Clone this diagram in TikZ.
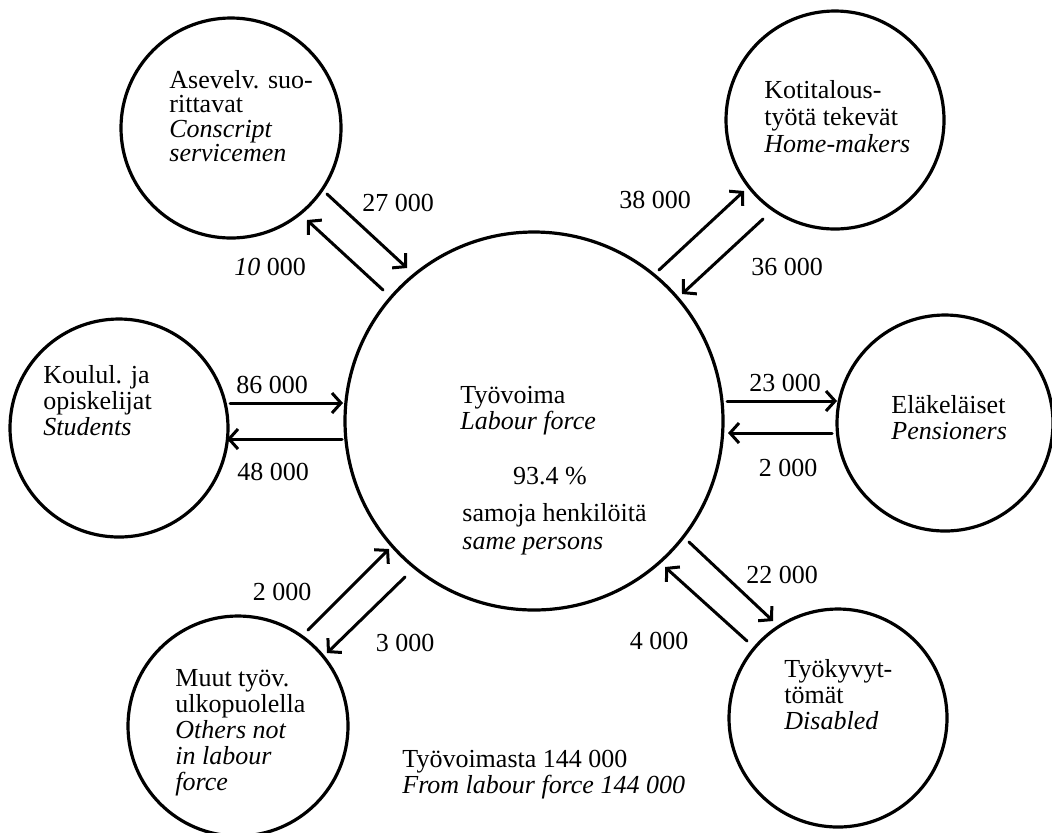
\documentclass[tikz,border=0pt]{standalone}
\usepackage{fontspec}
\setmainfont{Liberation Serif}
\usetikzlibrary{arrows.meta}
\begin{document}
\begin{tikzpicture}[x=0.5pt,y=-0.5pt,
  circ/.style={draw,circle,line width=1.6pt,inner sep=0pt,outer sep=0pt},
  flow/.style={line width=1.5pt,line cap=round,-{Straight Barb[length=4.5pt,width=10pt]}},
  lbl/.style={inner sep=0pt,font=\fontsize{13}{14}\selectfont},
  txt/.style={inner sep=0pt,anchor=base west,font=\fontsize{13}{14}\selectfont}]
\useasboundingbox (0,0) rectangle (1052,832);
% circles
\node[circ,minimum size=189pt] (lab) at (534,421) {};
\node[circ,minimum size=110pt] (cons) at (231,128) {};
\node[circ,minimum size=109pt] (home) at (835,120) {};
\node[circ,minimum size=109pt] (stud) at (119,428) {};
\node[circ,minimum size=108pt] (pens) at (945,423) {};
\node[circ,minimum size=110pt] (oth) at (238,726) {};
\node[circ,minimum size=109pt] (dis) at (838,718) {};
% texts in circles
\node[txt] (cons1) at (169,88) {Asevelv. suo-};
\node[txt] (cons2) at (169,112.5) {rittavat};
\node[txt] (cons3) at (169,137) {\itshape Conscript};
\node[txt] (cons4) at (169,161) {\itshape servicemen};
\node[txt] (home1) at (764,98) {Kotitalous-};
\node[txt] (home2) at (764,125) {työtä tekevät};
\node[txt] (home3) at (764,152) {\itshape Home-makers};
\node[txt] (stud1) at (43,383) {Koulul. ja};
\node[txt] (stud2) at (43,409) {opiskelijat};
\node[txt] (stud3) at (43,435) {\itshape Students};
\node[txt] (pens1) at (891,413) {Eläkeläiset};
\node[txt] (pens2) at (891,439) {\itshape Pensioners};
\node[txt] (lab1) at (460,403) {Työvoima};
\node[txt] (lab2) at (460,429) {\itshape Labour force};
\node[txt,anchor=base] (lab3) at (550,484) {93.4 \%};
\node[txt] (lab4) at (462,521) {samoja henkilöitä};
\node[txt] (lab5) at (462,549) {\itshape same persons};
\node[txt] (oth1) at (175,686) {Muut työv.};
\node[txt] (oth2) at (175,712) {ulkopuolella};
\node[txt] (oth3) at (175,738) {\itshape Others not};
\node[txt] (oth4) at (175,764) {\itshape in labour};
\node[txt] (oth5) at (175,790) {\itshape force};
\node[txt] (dis1) at (784,677) {Työkyvyt-};
\node[txt] (dis2) at (784,703) {tömät};
\node[txt] (dis3) at (784,729) {\itshape Disabled};
\node[txt] (tot1) at (402,767) {Työvoimasta 144 000};
\node[txt] (tot2) at (402,793) {\itshape From labour force 144 000};
% arrow ends
\coordinate (a27s) at (327,194); \coordinate (a27e) at (407,268);
\coordinate (a10s) at (383,290); \coordinate (a10e) at (307,220);
\coordinate (a38s) at (659,270); \coordinate (a38e) at (744,191);
\coordinate (a36s) at (763,219); \coordinate (a36e) at (682,294);
\coordinate (a86s) at (230,403); \coordinate (a86e) at (343,403);
\coordinate (a48s) at (342,439); \coordinate (a48e) at (227,439);
\coordinate (a23s) at (727,401); \coordinate (a23e) at (837,401);
\coordinate (a2ps) at (832,433); \coordinate (a2pe) at (728,433);
\coordinate (a22s) at (689,542); \coordinate (a22e) at (773,621);
\coordinate (a4s) at (747,641); \coordinate (a4e) at (665,567);
\coordinate (a2os) at (308,630); \coordinate (a2oe) at (389,549);
\coordinate (a3s) at (405,577); \coordinate (a3e) at (327,653);
\draw[flow] (a27s) -- (a27e);
\draw[flow] (a10s) -- (a10e);
\draw[flow] (a38s) -- (a38e);
\draw[flow] (a36s) -- (a36e);
\draw[flow] (a86s) -- (a86e);
\draw[flow] (a48s) -- (a48e);
\draw[flow] (a23s) -- (a23e);
\draw[flow] (a2ps) -- (a2pe);
\draw[flow] (a22s) -- (a22e);
\draw[flow] (a4s) -- (a4e);
\draw[flow] (a2os) -- (a2oe);
\draw[flow] (a3s) -- (a3e);
% flow labels
\node[lbl] (n27) at (398,203) {27 000};
\node[lbl] (n10) at (270,267) {\textit{10} 000};
\node[lbl] (n38) at (655,200) {38 000};
\node[lbl] (n36) at (787,267) {36 000};
\node[lbl] (n86) at (272,385) {86 000};
\node[lbl] (n48) at (273,472) {48 000};
\node[lbl] (n23) at (785,383) {23 000};
\node[lbl] (n2p) at (788,468) {2 000};
\node[lbl] (n22) at (782,575) {22 000};
\node[lbl] (n4) at (659,641) {4 000};
\node[lbl] (n3) at (405,643) {3 000};
\node[lbl] (n2o) at (282,592) {2 000};
\end{tikzpicture}
\end{document}
